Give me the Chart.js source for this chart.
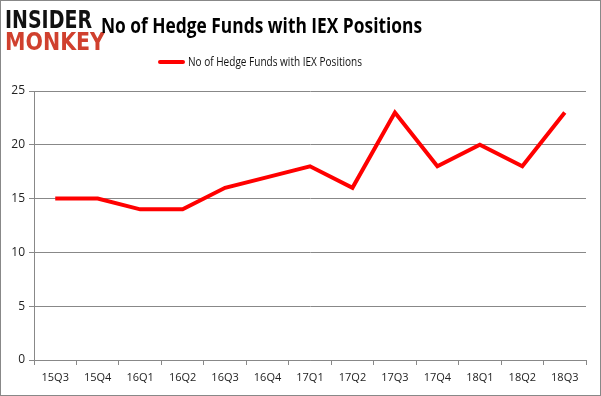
<!DOCTYPE html>
<html lang="en">
<head>
    <meta charset="UTF-8">
    <title>No of Hedge Funds with IEX Positions</title>
    <script src="https://cdn.jsdelivr.net/npm/chart.js@4.4.0/dist/chart.umd.min.js"></script>
    <style>
        body { margin: 0; background: white; }
        #wrap { width: 601px; height: 396px; position: relative; }
    </style>
</head>
<body>
    <div id="wrap"><canvas id="chart" width="601" height="396"></canvas></div>

    <script>
        // data
        var quarters = ['15Q3', '15Q4', '16Q1', '16Q2', '16Q3', '16Q4', '17Q1', '17Q2', '17Q3', '17Q4', '18Q1', '18Q2', '18Q3'];
        var fundCounts = [15, 15, 14, 14, 16, 17, 18, 16, 23, 18, 20, 18, 23];
        var seriesName = 'No of Hedge Funds with IEX Positions';
        var chartTitle = 'No of Hedge Funds with IEX Positions';

        // draws text squeezed/stretched to a given width
        function fitText(ctx, text, x, y, width) {
            var w = ctx.measureText(text).width;
            ctx.save();
            ctx.translate(x, y);
            ctx.scale(width / w, 1);
            ctx.fillText(text, 0, 0);
            ctx.restore();
        }

        var decorations = {
            id: 'decorations',
            afterDraw: function(chart) {
                var ctx = chart.ctx;
                ctx.save();
                ctx.textBaseline = 'alphabetic';
                ctx.textAlign = 'left';

                // logo
                ctx.fillStyle = '#111';
                ctx.font = 'bold 25px "DejaVu Sans"';
                fitText(ctx, 'INSIDER', 5, 28, 87);
                ctx.fillStyle = '#d0402e';
                fitText(ctx, 'MONKEY', 5, 50, 100);

                // title
                ctx.fillStyle = '#000';
                ctx.font = 'bold 22px "Open Sans"';
                fitText(ctx, chartTitle, 101, 33, 321);

                // legend
                ctx.strokeStyle = '#ff0000';
                ctx.lineWidth = 4;
                ctx.lineCap = 'round';
                ctx.beginPath();
                ctx.moveTo(160, 62);
                ctx.lineTo(183, 62);
                ctx.stroke();
                ctx.fillStyle = '#111';
                ctx.font = '12px "Open Sans"';
                fitText(ctx, seriesName, 188, 66, 174);

                // outer frame
                ctx.strokeStyle = '#888';
                ctx.lineWidth = 1;
                ctx.strokeRect(0.5, 0.5, 600, 395);
                ctx.restore();
            }
        };

        var ctx = document.getElementById('chart').getContext('2d');
        var chart = new Chart(ctx, {
            type: 'line',
            data: {
                labels: quarters,
                datasets: [{
                    label: seriesName,
                    data: fundCounts,
                    borderColor: '#ff0000',
                    borderWidth: 4,
                    pointRadius: 0,
                    tension: 0,
                    fill: false
                }]
            },
            options: {
                responsive: false,
                animation: false,
                layout: { padding: { top: 91, right: 15, left: 0, bottom: 0 } },
                plugins: {
                    legend: { display: false },
                    title: { display: false },
                    tooltip: { enabled: false }
                },
                scales: {
                    x: {
                        offset: true,
                        afterFit: function(s) { s.height = 36; },
                        grid: {
                            offset: true,
                            drawOnChartArea: false,
                            color: '#888',
                            tickLength: 5
                        },
                        border: { color: '#888' },
                        ticks: {
                            color: '#222',
                            font: { family: 'Open Sans', size: 11 },
                            padding: 6,
                            maxRotation: 0
                        }
                    },
                    y: {
                        min: 0,
                        max: 25,
                        afterFit: function(s) { s.width = 34; },
                        grid: { color: '#888', tickLength: 5 },
                        border: { color: '#888' },
                        ticks: {
                            stepSize: 5,
                            color: '#222',
                            font: { family: 'Open Sans', size: 12 },
                            padding: 4
                        }
                    }
                }
            },
            plugins: [decorations]
        });
    </script>
</body>
</html>
